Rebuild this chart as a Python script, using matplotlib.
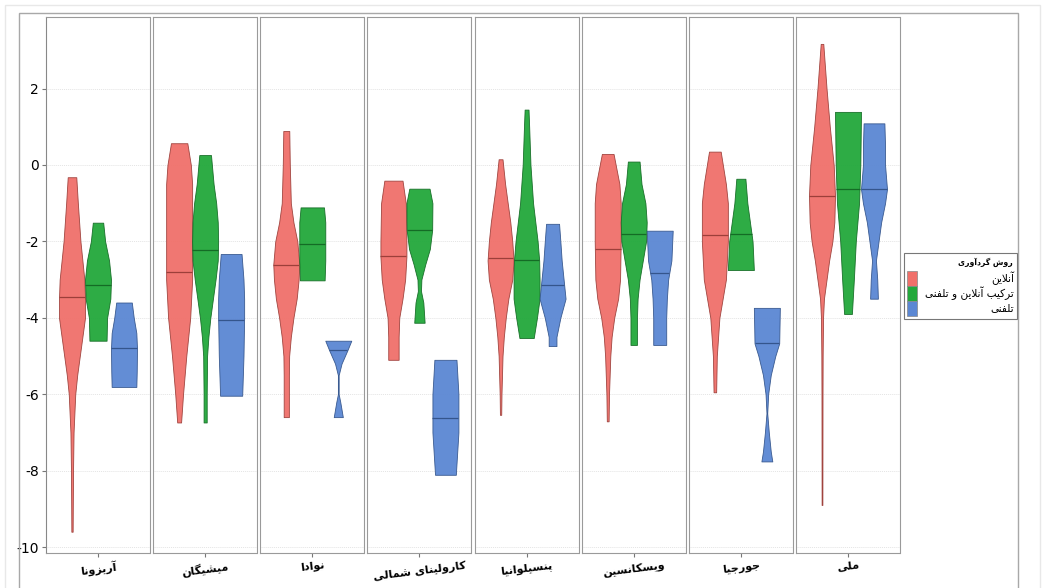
import numpy as np
import matplotlib.pyplot as plt
from matplotlib.patches import Rectangle

# facets and groups
states = ['آریزونا', 'میشیگان', 'نوادا', 'کارولینای شمالی',
          'پنسیلوانیا', 'ویسکانسین', 'جورجیا', 'ملی']
methods = ['آنلاین', 'ترکیب آنلاین و تلفنی', 'تلفنی']
legend_title = 'روش گردآوری'

# medians per state: [online, mixed, phone]
medians = [
    [-3.45, -3.14, -4.78],
    [-2.79, -2.22, -4.05],
    [-2.61, -2.07, -4.85],
    [-2.37, -1.70, -6.63],
    [-2.44, -2.48, -3.15],
    [-2.19, -1.81, -2.82],
    [-1.83, -1.81, -4.67],
    [-0.80, -0.63, -0.63],
]

# violin outlines: (value, relative density), top -> bottom
profiles = [
    [  # Arizona
        [(-0.32, .33), (-1, .45), (-2, .65), (-3, .95), (-3.5, 1), (-4, 1), (-4.5, .8), (-5, .6),
         (-5.5, .4), (-6, .25), (-7, .12), (-8, .08), (-9, .06), (-9.6, .05)],
        [(-1.51, .4), (-2, .55), (-2.5, .85), (-3, 1), (-3.5, .95), (-4, .7), (-4.6, .66)],
        [(-3.6, .6), (-4.0, .75), (-4.4, .95), (-4.8, 1), (-5.4, .98), (-5.81, .95)],
    ],
    [  # Michigan
        [(0.57, .63), (0, .9), (-0.5, 1), (-2, 1), (-3, 1), (-4, .85), (-5, .55), (-6, .3), (-6.74, .15)],
        [(0.26, .45), (-0.5, .65), (-1, .85), (-1.5, .97), (-2, 1), (-2.5, .97), (-3, .8), (-3.5, .6),
         (-4, .4), (-4.5, .25), (-5, .15), (-6, .12), (-6.74, .12)],
        [(-2.33, .8), (-3, .95), (-3.5, 1), (-4, 1), (-5, .95), (-6.04, .85)],
    ],
    [  # Nevada
        [(0.89, .23), (0, .27), (-1, .35), (-1.5, .55), (-2, .85), (-2.6, 1), (-3, .95), (-3.5, .8),
         (-4, .55), (-4.5, .35), (-5, .22), (-5.5, .2), (-6.6, .2)],
        [(-1.11, .9), (-1.5, 1), (-2.5, 1), (-3.02, .95)],
        [(-4.6, 1), (-4.85, .7), (-5.2, .25), (-5.5, .03), (-6.0, .03), (-6.2, .15), (-6.6, .35)],
    ],
    [  # North Carolina
        [(-0.41, .7), (-1, .95), (-2, 1), (-2.4, 1), (-3, .9), (-3.5, .7), (-4, .45), (-4.5, .4), (-5.1, .4)],
        [(-0.62, .78), (-1, 1), (-1.7, .98), (-2.2, .8), (-2.6, .45), (-3, .15), (-3.3, .12),
         (-3.6, .3), (-4.13, .4)],
        [(-5.1, .85), (-6, 1), (-7, 1), (-8.11, .8)],
    ],
    [  # Pennsylvania
        [(0.15, .15), (-0.5, .35), (-1, .55), (-1.5, .75), (-2, .9), (-2.5, 1), (-3, .9), (-3.5, .6),
         (-4, .4), (-4.5, .25), (-5, .15), (-6, .07), (-6.54, .05)],
        [(1.45, .15), (1, .2), (0, .3), (-1, .5), (-2, .85), (-2.5, .97), (-3, 1), (-3.5, 1),
         (-4, .8), (-4.53, .55)],
        [(-1.54, .5), (-2, .6), (-2.5, .7), (-3, .85), (-3.5, 1), (-4, .6), (-4.5, .3), (-4.74, .3)],
    ],
    [  # Wisconsin
        [(0.29, .45), (-0.5, .9), (-1, 1), (-2, 1), (-3, .95), (-3.5, .8), (-4, .5), (-4.5, .3),
         (-5, .2), (-6, .1), (-6.71, .07)],
        [(0.09, .45), (-0.5, .6), (-1, .9), (-1.5, 1), (-2, .95), (-2.5, .7), (-3, .45), (-3.5, .3),
         (-4, .25), (-4.71, .25)],
        [(-1.72, 1), (-2.5, .9), (-3, .65), (-3.5, .55), (-4, .5), (-4.71, .5)],
    ],
    [  # Georgia
        [(0.35, .45), (-0.5, .85), (-1, 1), (-2, 1), (-3, .85), (-3.5, .6), (-4, .35), (-5, .15), (-5.95, .1)],
        [(-0.36, .35), (-1, .5), (-1.5, .7), (-2, .9), (-2.75, 1)],
        [(-3.74, 1), (-4.67, .95), (-5, .65), (-5.5, .3), (-6, .1), (-6.5, .03), (-7, .15),
         (-7.5, .3), (-7.76, .42)],
    ],
    [  # National
        [(3.17, .1), (2, .35), (1, .6), (0, .9), (-0.8, 1), (-1.5, .95), (-2, .8), (-2.5, .55),
         (-3, .35), (-3.5, .15), (-4, .08), (-5, .05), (-6, .04), (-8.9, .03)],
        [(1.39, 1), (0, .95), (-1, .85), (-2, .6), (-3, .45), (-3.9, .3)],
        [(1.09, .8), (0.5, .85), (0, .85), (-0.63, 1), (-1, .85), (-1.5, .55), (-2, .35),
         (-2.5, .15), (-3, .25), (-3.5, .3)],
    ],
]

fills = ['#F0706A', '#22A83B', '#5B87D3']
edges = ['#9c3f3a', '#146b25', '#34558c']

# --- minimal Persian shaping (matplotlib has no bidi / joining support) ---
FORMS = {
    'ا': ('\uFE8D', '\uFE8E', None, None), 'آ': ('\uFE81', '\uFE82', None, None),
    'ب': ('\uFE8F', '\uFE90', '\uFE91', '\uFE92'), 'پ': ('\uFB56', '\uFB57', '\uFB58', '\uFB59'),
    'ت': ('\uFE95', '\uFE96', '\uFE97', '\uFE98'), 'ج': ('\uFE9D', '\uFE9E', '\uFE9F', '\uFEA0'),
    'د': ('\uFEA9', '\uFEAA', None, None), 'ر': ('\uFEAD', '\uFEAE', None, None),
    'ز': ('\uFEAF', '\uFEB0', None, None), 'س': ('\uFEB1', '\uFEB2', '\uFEB3', '\uFEB4'),
    'ش': ('\uFEB5', '\uFEB6', '\uFEB7', '\uFEB8'), 'ف': ('\uFED1', '\uFED2', '\uFED3', '\uFED4'),
    '\u06A9': ('\uFB8E', '\uFB8F', '\uFB90', '\uFB91'), 'گ': ('\uFB92', '\uFB93', '\uFB94', '\uFB95'),
    'ل': ('\uFEDD', '\uFEDE', '\uFEDF', '\uFEE0'), 'م': ('\uFEE1', '\uFEE2', '\uFEE3', '\uFEE4'),
    'ن': ('\uFEE5', '\uFEE6', '\uFEE7', '\uFEE8'), 'و': ('\uFEED', '\uFEEE', None, None),
    '\u06CC': ('\uFBFC', '\uFBFD', '\uFBFE', '\uFBFF'),
}
LAM_ALEF = {'ا': ('\uFEFB', '\uFEFC'), 'آ': ('\uFEF5', '\uFEF6')}


def shape(s):
    s = s.replace('\u064A', '\u06CC').replace('\u0643', '\u06A9')
    out = []
    joins = False
    i = 0
    while i < len(s):
        c = s[i]
        nxt = s[i + 1] if i + 1 < len(s) else ''
        if c == 'ل' and nxt in LAM_ALEF:
            out.append(LAM_ALEF[nxt][1 if joins else 0])
            joins = False
            i += 2
            continue
        if c in FORMS:
            f = FORMS[c]
            dual = f[2] is not None
            jn = dual and nxt in FORMS
            if joins and jn:
                out.append(f[3])
            elif joins:
                out.append(f[1])
            elif jn:
                out.append(f[2])
            else:
                out.append(f[0])
            joins = dual
        else:
            out.append(c)
            joins = False
        i += 1
    return ''.join(out)[::-1]


W, H = 1055, 588
plt.rcParams['font.family'] = ['DejaVu Sans']
plt.rcParams['axes.unicode_minus'] = False
fig = plt.figure(figsize=(W / 100, H / 100), dpi=100)


def fx(px):
    return px / W


def fy(py):
    return 1 - py / H


# outer frames
fig.patches.append(Rectangle((fx(5), fy(H + 5)), fx(1040 - 5), fy(5) - fy(H + 5),
                             transform=fig.transFigure, fill=False, ec='#e8e8e8', lw=1.0))
fig.patches.append(Rectangle((fx(19), fy(H + 5)), fx(1018 - 19), fy(13) - fy(H + 5),
                             transform=fig.transFigure, fill=False, ec='#a8a8a8', lw=1.0))

left, right, top, bottom = 46, 900, 17, 553
pw = 104
gap = (right - left - 8 * pw) / 7
positions = [0.7, 1.0, 1.3]
vw = 0.3

for k, state in enumerate(states):
    x0 = left + k * (pw + gap)
    ax = fig.add_axes([fx(x0), fy(bottom), fx(pw), fy(top) - fy(bottom)])
    for j in range(3):
        prof = profiles[k][j]
        ys = np.array([p[0] for p in prof])
        ws = np.array([p[1] for p in prof])
        stats = [dict(coords=ys, vals=ws, mean=np.nan, median=medians[k][j],
                      min=ys.min(), max=ys.max())]
        parts = ax.violin(stats, positions=[positions[j]], widths=vw,
                          showmeans=False, showextrema=False, showmedians=False)
        for b in parts['bodies']:
            b.set_facecolor(fills[j])
            b.set_edgecolor(edges[j])
            b.set_linewidth(0.6)
            b.set_alpha(0.95)
        half = 0.5 * vw * np.interp(medians[k][j], ys[::-1], ws[::-1]) / ws.max()
        ax.hlines(medians[k][j], positions[j] - half, positions[j] + half,
                  color=edges[j], lw=0.9, zorder=3)

    ax.set_xlim(0.4, 1.6)
    ax.set_ylim(-10.157, 3.874)
    ax.set_yticks([2, 0, -2, -4, -6, -8, -10])
    ax.yaxis.grid(True, color='#e4e4e4', ls=(0, (1, 1)), lw=0.7)
    ax.set_axisbelow(True)
    ax.set_xticks([1.0])
    ax.set_xticklabels([shape(state)], fontsize=8, fontweight='bold', rotation=7)
    ax.tick_params(axis='x', length=3, color='#777777', pad=2)
    for sp in ax.spines.values():
        sp.set_color('#9a9a9a')
        sp.set_linewidth(0.8)
        sp.set_linestyle((0, (1, 1)))
    if k == 0:
        ax.spines['left'].set_linestyle('-')
        ax.spines['left'].set_color('#888888')
        ax.tick_params(axis='y', length=3, color='#777777', labelsize=10, pad=2)
    else:
        ax.tick_params(axis='y', left=False, labelleft=False)

# legend (drawn by hand so the Persian labels can sit right-aligned)
lx0, lx1, ly0, ly1 = 904, 1017, 253, 319
fig.patches.append(Rectangle((fx(lx0), fy(ly1)), fx(lx1 - lx0), fy(ly0) - fy(ly1),
                             transform=fig.transFigure, fill=True, fc='white',
                             ec='#777777', lw=0.8))
fig.text(fx(1013), fy(262), shape(legend_title), ha='right', va='center',
         fontsize=5.5, fontweight='bold')
sw_top = 271
sw_h = 15
for j, m in enumerate(methods):
    y_a = sw_top + j * sw_h
    fig.patches.append(Rectangle((fx(907), fy(y_a + sw_h)), fx(10), fy(y_a) - fy(y_a + sw_h),
                                 transform=fig.transFigure, fc=fills[j], ec='#888888', lw=0.5))
    fig.text(fx(1014), fy(y_a + sw_h / 2), shape(m), ha='right', va='center', fontsize=7.6)

fig.savefig('out.png', dpi=100)
